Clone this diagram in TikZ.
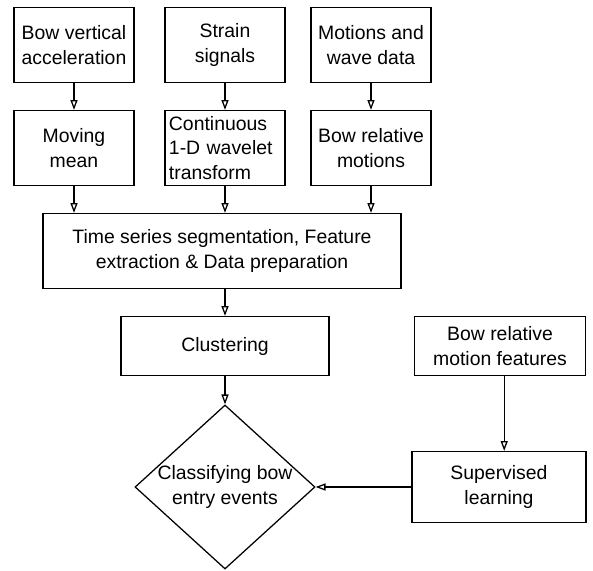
\documentclass[tikz,border=0pt]{standalone}
\usepackage{fontspec}
\setmainfont{Liberation Sans}
\usetikzlibrary{arrows.meta, shapes.geometric}

\begin{document}
\begin{tikzpicture}[x=0.025cm, y=-0.025cm,
    every node/.style={font=\fontsize{13.8}{17.5}\selectfont},
    box/.style={draw, line width=0.9pt, align=center, inner sep=2pt},
    srcbox/.style={box, minimum width=3cm, minimum height=1.875cm},
    flow/.style={-{Triangle[open, length=7pt, width=5pt]}, line width=0.9pt}]
    \useasboundingbox (0,0) rectangle (593,571);

    \node[srcbox] (acc) at (74,45) {Bow vertical\\acceleration};
    \node[srcbox] (strain) at (225,45) {Strain\\signals};
    \node[srcbox] (waves) at (371,45) {Motions and\\wave data};

    \node[srcbox] (mean) at (74,148) {Moving\\mean};
    \node[srcbox, text width=2.8cm, align=left] (cwt) at (225,148) {Continuous\\1-D wavelet\\transform};
    \node[srcbox] (relmot) at (371,148) {Bow relative\\motions};

    \node[box, minimum width=8.95cm, minimum height=1.875cm] (prep) at (222,251)
      {Time series segmentation, Feature\\extraction \& Data preparation};
    \node[box, minimum width=5.2cm, minimum height=1.475cm] (clust) at (225,346) {Clustering};
    \node[box, minimum width=4.275cm, minimum height=1.475cm] (feat) at (500,346)
      {Bow relative\\motion features};
    \node[box, minimum width=4.35cm, minimum height=1.775cm] (superv) at (499,487)
      {Supervised\\learning};
    \node[draw, line width=0.9pt, diamond, inner sep=0pt,
      minimum width=4.5cm, minimum height=4.1cm] (classify) at (225,487) {};
    \node[align=center] (classifytext) at (classify) {Classifying bow\\entry events};

    \draw[flow] (acc) -- (mean);
    \draw[flow] (strain) -- (cwt);
    \draw[flow] (waves) -- (relmot);
    \draw[flow] (mean) -- (mean |- prep.north);
    \draw[flow] (cwt) -- (cwt |- prep.north);
    \draw[flow] (relmot) -- (relmot |- prep.north);
    \draw[flow] (prep.south -| clust) -- (clust);
    \draw[flow] (clust) -- (classify);
    \draw[flow] ([xshift=3pt]feat.south) -- ([xshift=3pt]feat.south |- superv.north);
    \draw[flow] (superv) -- (classify);
\end{tikzpicture}
\end{document}
